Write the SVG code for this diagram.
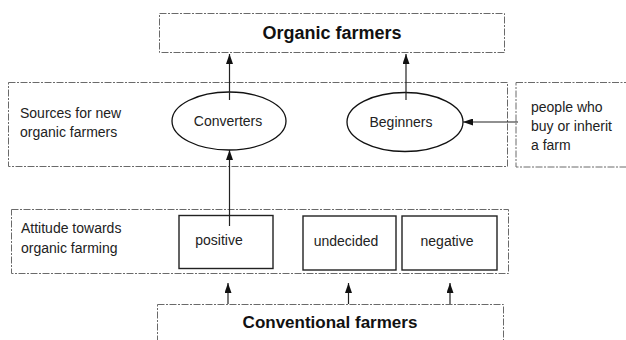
<svg xmlns="http://www.w3.org/2000/svg" width="626" height="340" viewBox="0 0 626 340">
<style>
.frame{fill:none;stroke:#6a6a6a;stroke-width:1;stroke-dasharray:7 1.5 2 1.5}
.box{fill:#fff;stroke:#222;stroke-width:1.4}
.ell{fill:#fff;stroke:#111;stroke-width:1.3}
.t{font-family:"Liberation Sans",Arial,sans-serif;font-size:14px;fill:#222}
.big{font-family:"Liberation Sans",Arial,sans-serif;font-weight:bold;fill:#111}
.c{text-anchor:middle}
.con{stroke:#222;stroke-width:1.2;fill:none;marker-end:url(#ah)}
</style>
<defs>
<marker id="ah" markerWidth="10" markerHeight="7" refX="10" refY="3.5" orient="auto" markerUnits="userSpaceOnUse" viewBox="0 0 10 7">
<path d="M0,0 L10,3.5 L0,7 z" fill="#111"/>
</marker>
</defs>
<rect width="626" height="340" fill="#fff"/>
<g id="organic">
<rect class="frame" x="159.5" y="13.5" width="345" height="39"/>
<text class="big c" x="332" y="39" font-size="18">Organic farmers</text>
</g>
<g id="sources">
<rect class="frame" x="8.5" y="82.5" width="499" height="84"/>
<text class="t" x="20" y="118">Sources for new</text>
<text class="t" x="20" y="137">organic farmers</text>
</g>
<g id="newcomers">
<rect class="frame" x="516" y="82.5" width="115" height="84.5"/>
<text class="t" x="531" y="112">people who</text>
<text class="t" x="531" y="131">buy or inherit</text>
<text class="t" x="531" y="150">a farm</text>
</g>
<g id="converters">
<ellipse class="ell" cx="229" cy="121" rx="57" ry="29"/>
<text class="t c" x="228" y="126">Converters</text>
</g>
<g id="beginners">
<ellipse class="ell" cx="405" cy="122" rx="58" ry="29.5"/>
<text class="t c" x="401" y="127">Beginners</text>
</g>
<g id="attitude">
<rect class="frame" x="11.5" y="209.5" width="497" height="64"/>
<text class="t" x="21" y="233">Attitude towards</text>
<text class="t" x="21" y="253">organic farming</text>
</g>
<g id="positive">
<rect class="box" x="179" y="215.5" width="94" height="53"/>
<text class="t c" x="219" y="245">positive</text>
</g>
<g id="undecided">
<rect class="box" x="303" y="216" width="93" height="54"/>
<text class="t c" x="346" y="246">undecided</text>
</g>
<g id="negative">
<rect class="box" x="402" y="216" width="95" height="54"/>
<text class="t c" x="447" y="246">negative</text>
</g>
<g id="conventional">
<rect class="frame" x="157.5" y="304.5" width="346" height="45"/>
<text class="big c" x="330" y="328" font-size="17">Conventional farmers</text>
</g>
<g id="connectors">
<line class="con" x1="229.5" y1="100" x2="229.5" y2="54"/>
<line class="con" x1="406" y1="100" x2="406" y2="54"/>
<line class="con" x1="518" y1="122" x2="463" y2="122"/>
<line class="con" x1="229.5" y1="226" x2="229.5" y2="150"/>
<line class="con" x1="228" y1="304" x2="228" y2="283"/>
<line class="con" x1="348.5" y1="304" x2="348.5" y2="283"/>
<line class="con" x1="450" y1="304" x2="450" y2="283"/>
</g>
</svg>
